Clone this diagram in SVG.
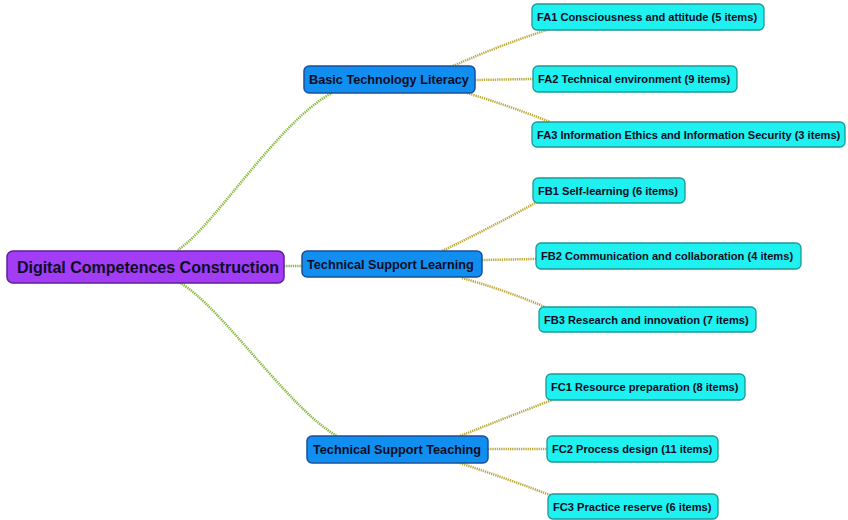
<svg xmlns="http://www.w3.org/2000/svg" width="848" height="520" viewBox="0 0 848 520">
<style>
text{font-family:"Liberation Sans",Arial,sans-serif;font-weight:bold;fill:#0c0c24}
.root rect{fill:#a23cf5;stroke:#5f1f9a;stroke-width:1.5}
.root text{font-size:16px}
.mid rect{fill:#118ff0;stroke:#1b4f9a;stroke-width:1.5}
.mid text{font-size:12.7px}
.leaf rect{fill:#1ff0f0;stroke:#1e9898;stroke-width:1.3}
.leaf text{font-size:11.1px}
.c1{fill:none;stroke:#86b83a;stroke-width:2.5;stroke-dasharray:1.3 0.9}
.c2{fill:none;stroke:#bba83a;stroke-width:2.5;stroke-dasharray:1.3 0.9}
</style>
<rect width="848" height="520" fill="#fff"/>
<g id="connectors">
<path class="c1" d="M178,250 C215,225 280,120 332,93"/>
<path class="c1" d="M284,266 L302,266"/>
<path class="c1" d="M180,283 C220,305 290,410 337,436"/>
<path class="c2" d="M453,66 Q500,45 550,29"/>
<path class="c2" d="M475,80 L533,79"/>
<path class="c2" d="M467,93 Q510,106 550,122"/>
<path class="c2" d="M442,251 Q490,228 537,202"/>
<path class="c2" d="M482,260 L536,259"/>
<path class="c2" d="M462,278 Q505,290 545,307"/>
<path class="c2" d="M460,436 Q505,418 552,400"/>
<path class="c2" d="M488,449 L547,449"/>
<path class="c2" d="M460,463 Q505,478 550,495"/>
</g>
<g id="root" class="root"><rect x="7" y="251" width="277" height="32" rx="6"/><text x="148" y="272.6" text-anchor="middle">Digital Competences Construction</text></g>
<g id="btl" class="mid"><rect x="304" y="66" width="171" height="27" rx="5"/><text x="309" y="84">Basic Technology Literacy</text></g>
<g id="tsl" class="mid"><rect x="302" y="251" width="180" height="26" rx="5"/><text x="307" y="268.5">Technical Support Learning</text></g>
<g id="tst" class="mid"><rect x="307" y="436" width="181" height="27" rx="5"/><text x="313" y="454">Technical Support Teaching</text></g>
<g id="fa1" class="leaf"><rect x="532" y="4" width="232" height="26" rx="5"/><text x="537" y="21">FA1 Consciousness and attitude (5 items)</text></g>
<g id="fa2" class="leaf"><rect x="533" y="66" width="204" height="26" rx="5"/><text x="538" y="83">FA2 Technical environment (9 items)</text></g>
<g id="fa3" class="leaf"><rect x="532" y="122" width="313" height="25" rx="5"/><text x="537" y="138.5">FA3 Information Ethics and Information Security (3 items)</text></g>
<g id="fb1" class="leaf"><rect x="533" y="178" width="152" height="25" rx="5"/><text x="538" y="194.5">FB1 Self-learning (6 items)</text></g>
<g id="fb2" class="leaf"><rect x="536" y="243" width="265" height="26" rx="5"/><text x="541" y="260">FB2 Communication and collaboration (4 items)</text></g>
<g id="fb3" class="leaf"><rect x="539" y="307" width="217" height="25" rx="5"/><text x="544" y="323.5">FB3 Research and innovation (7 items)</text></g>
<g id="fc1" class="leaf"><rect x="546" y="374" width="199" height="26" rx="5"/><text x="551" y="391">FC1 Resource preparation (8 items)</text></g>
<g id="fc2" class="leaf"><rect x="547" y="436" width="171" height="26" rx="5"/><text x="552" y="453">FC2 Process design (11 items)</text></g>
<g id="fc3" class="leaf"><rect x="548" y="494" width="170" height="25" rx="5"/><text x="553" y="510.5">FC3 Practice reserve (6 items)</text></g>
</svg>
